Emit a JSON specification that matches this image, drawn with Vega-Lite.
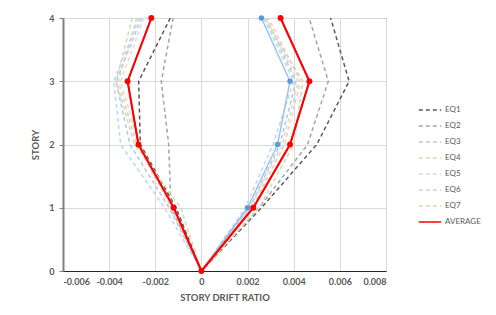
{
  "$schema": "https://vega.github.io/schema/vega-lite/v6.json",
  "width": 323,
  "height": 253,
  "autosize": {"type": "none"},
  "padding": {"left": 63, "top": 18, "right": 110, "bottom": 44},
  "background": "white",
  "config": {
    "font": "Lato",
    "view": {"stroke": "#262626", "strokeWidth": 1},
    "axis": {
      "labelColor": "#595959", "labelFontSize": 9, "labelFont": "Lato", "labelFontWeight": "bold",
      "titleColor": "#595959", "titleFontSize": 9.5, "titleFontWeight": "bold", "titleFont": "Lato",
      "gridColor": "#d9d9d9", "gridWidth": 1
    }
  },
  "datasets": {
    "eq": [
      {"s": "EQ1", "o": 0, "story": 4, "drift": -0.00135},
      {"s": "EQ1", "o": 1, "story": 3, "drift": -0.00272},
      {"s": "EQ1", "o": 2, "story": 2, "drift": -0.00265},
      {"s": "EQ1", "o": 3, "story": 1, "drift": -0.0011},
      {"s": "EQ1", "o": 4, "story": 0, "drift": 0},
      {"s": "EQ1", "o": 5, "story": 1, "drift": 0.0026},
      {"s": "EQ1", "o": 6, "story": 2, "drift": 0.0050},
      {"s": "EQ1", "o": 7, "story": 3, "drift": 0.0064},
      {"s": "EQ1", "o": 8, "story": 4, "drift": 0.0056},
      {"s": "EQ2", "o": 0, "story": 4, "drift": -0.00123},
      {"s": "EQ2", "o": 1, "story": 3, "drift": -0.00174},
      {"s": "EQ2", "o": 2, "story": 2, "drift": -0.00142},
      {"s": "EQ2", "o": 3, "story": 1, "drift": -0.00132},
      {"s": "EQ2", "o": 4, "story": 0, "drift": 0},
      {"s": "EQ2", "o": 5, "story": 1, "drift": 0.0025},
      {"s": "EQ2", "o": 6, "story": 2, "drift": 0.0046},
      {"s": "EQ2", "o": 7, "story": 3, "drift": 0.0055},
      {"s": "EQ2", "o": 8, "story": 4, "drift": 0.00467},
      {"s": "EQ3", "o": 0, "story": 4, "drift": -0.0026},
      {"s": "EQ3", "o": 1, "story": 3, "drift": -0.0037},
      {"s": "EQ3", "o": 2, "story": 2, "drift": -0.0031},
      {"s": "EQ3", "o": 3, "story": 1, "drift": -0.0014},
      {"s": "EQ3", "o": 4, "story": 0, "drift": 0},
      {"s": "EQ3", "o": 5, "story": 1, "drift": 0.0021},
      {"s": "EQ3", "o": 6, "story": 2, "drift": 0.0034},
      {"s": "EQ3", "o": 7, "story": 3, "drift": 0.0041},
      {"s": "EQ3", "o": 8, "story": 4, "drift": 0.0028},
      {"s": "EQ4", "o": 0, "story": 4, "drift": -0.0028},
      {"s": "EQ4", "o": 1, "story": 3, "drift": -0.0036},
      {"s": "EQ4", "o": 2, "story": 2, "drift": -0.0028},
      {"s": "EQ4", "o": 3, "story": 1, "drift": -0.0013},
      {"s": "EQ4", "o": 4, "story": 0, "drift": 0},
      {"s": "EQ4", "o": 5, "story": 1, "drift": 0.0022},
      {"s": "EQ4", "o": 6, "story": 2, "drift": 0.0036},
      {"s": "EQ4", "o": 7, "story": 3, "drift": 0.0043},
      {"s": "EQ4", "o": 8, "story": 4, "drift": 0.0029},
      {"s": "EQ5", "o": 0, "story": 4, "drift": -0.0025},
      {"s": "EQ5", "o": 1, "story": 3, "drift": -0.0035},
      {"s": "EQ5", "o": 2, "story": 2, "drift": -0.0027},
      {"s": "EQ5", "o": 3, "story": 1, "drift": -0.0012},
      {"s": "EQ5", "o": 4, "story": 0, "drift": 0},
      {"s": "EQ5", "o": 5, "story": 1, "drift": 0.0021},
      {"s": "EQ5", "o": 6, "story": 2, "drift": 0.0035},
      {"s": "EQ5", "o": 7, "story": 3, "drift": 0.0042},
      {"s": "EQ5", "o": 8, "story": 4, "drift": 0.0028},
      {"s": "EQ6", "o": 0, "story": 4, "drift": -0.0027},
      {"s": "EQ6", "o": 1, "story": 3, "drift": -0.0038},
      {"s": "EQ6", "o": 2, "story": 2, "drift": -0.0035},
      {"s": "EQ6", "o": 3, "story": 1, "drift": -0.0016},
      {"s": "EQ6", "o": 4, "story": 0, "drift": 0},
      {"s": "EQ6", "o": 5, "story": 1, "drift": 0.0019},
      {"s": "EQ6", "o": 6, "story": 2, "drift": 0.0031},
      {"s": "EQ6", "o": 7, "story": 3, "drift": 0.0040},
      {"s": "EQ6", "o": 8, "story": 4, "drift": 0.0027},
      {"s": "EQ7", "o": 0, "story": 4, "drift": -0.0030},
      {"s": "EQ7", "o": 1, "story": 3, "drift": -0.0037},
      {"s": "EQ7", "o": 2, "story": 2, "drift": -0.0029},
      {"s": "EQ7", "o": 3, "story": 1, "drift": -0.0009},
      {"s": "EQ7", "o": 4, "story": 0, "drift": 0},
      {"s": "EQ7", "o": 5, "story": 1, "drift": 0.0025},
      {"s": "EQ7", "o": 6, "story": 2, "drift": 0.0040},
      {"s": "EQ7", "o": 7, "story": 3, "drift": 0.0044},
      {"s": "EQ7", "o": 8, "story": 4, "drift": 0.0027},
      {"s": "AVERAGE", "o": 0, "story": 4, "drift": -0.00217},
      {"s": "AVERAGE", "o": 1, "story": 3, "drift": -0.0032},
      {"s": "AVERAGE", "o": 2, "story": 2, "drift": -0.00273},
      {"s": "AVERAGE", "o": 3, "story": 1, "drift": -0.0012},
      {"s": "AVERAGE", "o": 4, "story": 0, "drift": 0},
      {"s": "AVERAGE", "o": 5, "story": 1, "drift": 0.00225},
      {"s": "AVERAGE", "o": 6, "story": 2, "drift": 0.00384},
      {"s": "AVERAGE", "o": 7, "story": 3, "drift": 0.00468},
      {"s": "AVERAGE", "o": 8, "story": 4, "drift": 0.00343}
    ],
    "extra": [
      {"o": 0, "story": 0, "drift": 0},
      {"o": 1, "story": 1, "drift": 0.0020},
      {"o": 2, "story": 2, "drift": 0.0033},
      {"o": 3, "story": 3, "drift": 0.00384},
      {"o": 4, "story": 4, "drift": 0.0026}
    ]
  },
  "encoding": {
    "x": {
      "field": "drift", "type": "quantitative",
      "scale": {"domain": [-0.006, 0.008], "nice": false, "zero": false},
      "axis": {
        "title": "STORY DRIFT RATIO",
        "values": [-0.006, -0.004, -0.002, 0, 0.002, 0.004, 0.006, 0.008],
        "labelExpr": "replace(format(datum.value, '.3~f'), '\u2212', '-')",
        "ticks": false, "domain": true, "domainColor": "#262626",
        "labelPadding": 6, "titlePadding": 6
      }
    },
    "y": {
      "field": "story", "type": "quantitative",
      "scale": {"domain": [0, 4], "nice": false},
      "axis": {
        "title": "STORY",
        "values": [0, 1, 2, 3, 4], "format": "d",
        "ticks": true, "tickSize": 4, "tickColor": "#7f7f7f",
        "domainColor": "#7f7f7f", "domainWidth": 2,
        "labelPadding": 5, "titlePadding": 8
      }
    },
    "order": {"field": "o", "type": "quantitative"}
  },
  "layer": [
    {
      "data": {"name": "eq"},
      "mark": {"type": "line", "strokeWidth": 1.5},
      "encoding": {
        "color": {
          "field": "s", "type": "nominal",
          "scale": {
            "domain": ["EQ1", "EQ2", "EQ3", "EQ4", "EQ5", "EQ6", "EQ7", "AVERAGE"],
            "range": ["#595959", "#a5a5a5", "#b4c7e7", "#f8cbad", "#dbdbdb", "#bdd7ee", "#c5e0b4", "#ff0000"]
          },
          "legend": {
            "title": null, "orient": "none", "legendX": 355, "legendY": 80,
            "symbolType": "stroke", "symbolSize": 500, "symbolStrokeWidth": 1.5,
            "rowPadding": -6.6, "labelFontSize": 8, "labelColor": "#595959", "labelOffset": 3
          }
        },
        "strokeDash": {
          "field": "s", "type": "nominal",
          "scale": {
            "domain": ["EQ1", "EQ2", "EQ3", "EQ4", "EQ5", "EQ6", "EQ7", "AVERAGE"],
            "range": [[4, 3], [4, 3], [4, 3], [4, 3], [4, 3], [4, 3], [4, 3], [1, 0]]
          },
          "legend": null
        },
        "strokeWidth": {
          "condition": {"test": "datum.s === 'AVERAGE'", "value": 2},
          "value": 1.5
        }
      }
    },
    {
      "data": {"name": "extra"},
      "mark": {"type": "line", "color": "#9dc3e6", "strokeWidth": 1.5, "point": {"filled": true, "color": "#5b9bd5", "size": 30}},
      "encoding": {}
    },
    {
      "data": {"name": "eq"},
      "transform": [{"filter": "datum.s === 'AVERAGE'"}],
      "mark": {"type": "line", "color": "#ff0000", "strokeWidth": 2, "point": {"filled": true, "color": "#ff0000", "size": 35}},
      "encoding": {}
    }
  ]
}
